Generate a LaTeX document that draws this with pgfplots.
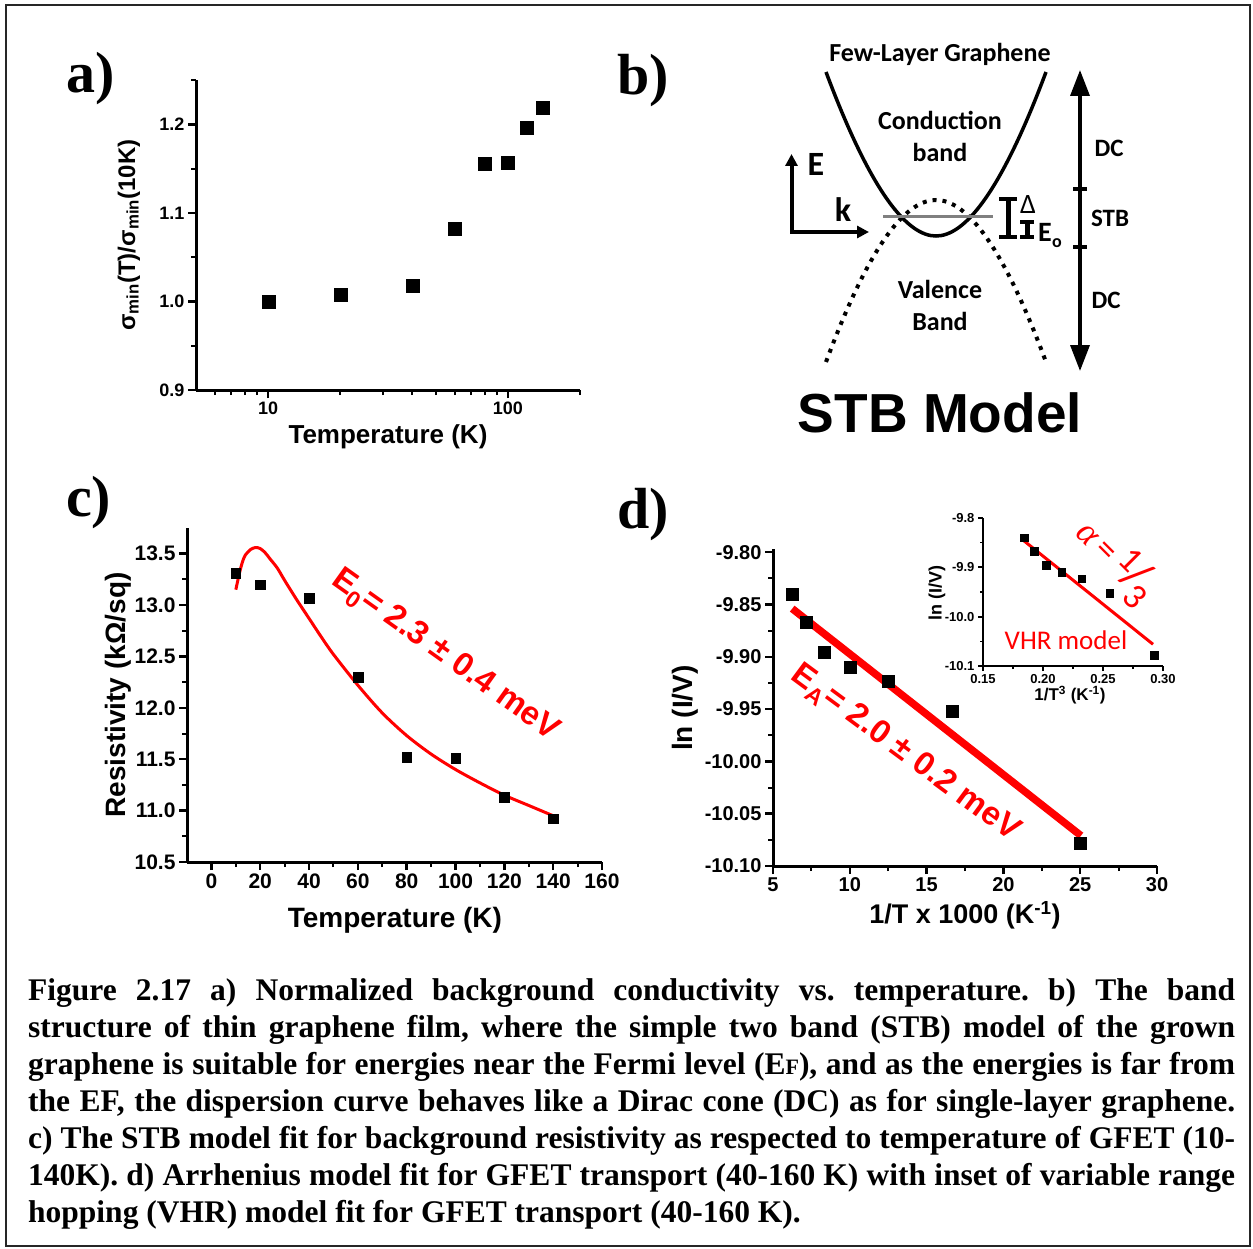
\documentclass[border=0pt]{standalone}
\usepackage{fontspec}
\setmainfont{Liberation Sans}
\newfontfamily\serifb{Liberation Serif}
\newfontfamily\calfont{Carlito}
\usepackage{pgfplots}
\usepackage{pgfplotstable}
\pgfplotsset{compat=1.18}
\usetikzlibrary{arrows.meta}
\newcommand\fs[1]{\fontsize{#1}{#1}\selectfont}
\frenchspacing

% ---------- data ----------
% a) normalised minimum conductivity
\pgfplotstableread{
T    s
10   1.000
20   1.008
40   1.018
60   1.082
80   1.155
100  1.157
120  1.196
140  1.219
}\tabA
% c) background resistivity (kOhm/sq)
\pgfplotstableread{
T    rho
10   13.31
20   13.20
40   13.07
60   12.30
80   11.52
100  11.51
120  11.13
140  10.92
}\tabC
% c) STB model fit
\pgfplotstableread{
T    rho
10   13.15
11   13.26
12   13.36
13   13.44
14   13.49
16   13.54
18   13.56
20   13.55
22   13.51
24   13.45
27   13.36
30   13.24
35   13.05
40   12.87
45   12.69
50   12.52
60   12.22
70   11.95
80   11.73
90   11.55
100  11.40
110  11.27
120  11.15
130  11.05
140  10.95
}\tabCfit
% d) Arrhenius plot, x = 1000/T
\pgfplotstableread{
x      y
6.25   -9.840
7.14   -9.867
8.33   -9.896
10.00  -9.910
12.50  -9.923
16.67  -9.952
25.00  -10.078
}\tabD
% d) inset, x = T^(-1/3)
\pgfplotstableread{
x       y
0.1842  -9.840
0.1926  -9.867
0.2027  -9.896
0.2154  -9.910
0.2321  -9.923
0.2554  -9.952
0.2924  -10.078
}\tabDin

\pgfplotsset{
  panel/.style={
    scale only axis, enlargelimits=false, clip=false,
    axis x line*=bottom, axis y line*=left,
    axis line style={line width=3pt, black},
    tick align=outside,
    major tick length=8pt, minor tick length=5pt,
    major tick style={line width=2.5pt, black},
    minor tick style={line width=2pt, black},
    /pgf/number format/assume math mode=true,
  },
  sq/.style={only marks, mark=square*, mark options={fill=black, draw=black, line width=0.3pt}},
}

\begin{document}
\begin{tikzpicture}

% ---------- frame, panel b drawing, labels and caption ----------
\begin{scope}[x=1pt,y=-1pt]
  \path (0,0) rectangle (1253,1249);
  \draw[line width=1.6pt, black!85] (6,5) rectangle (1250,1246);

  % panel letters
  \node[anchor=base west, inner sep=0, font=\serifb\bfseries\fs{58}] at (66,93) {a)};
  \node[anchor=base west, inner sep=0, font=\serifb\bfseries\fs{58}] at (617,95) {b)};
  \node[anchor=base west, inner sep=0, font=\serifb\bfseries\fs{58}] at (66,516) {c)};
  \node[anchor=base west, inner sep=0, font=\serifb\bfseries\fs{58}] at (617,528) {d)};

  % b) band structure sketch
  \draw[line width=3.5pt] (826,72) .. controls (872,195) and (908,236) .. (936,236)
        .. controls (964,236) and (1000,195) .. (1046,72);
  \draw[line width=4pt, dash pattern=on 4pt off 6pt] (826,362) .. controls (872,238) and (908,200) .. (936,200)
        .. controls (964,200) and (1000,238) .. (1046,362);
  \draw[black!50, line width=2.5pt] (883,216.5) -- (993,216.5);
  \draw[line width=4pt, line join=miter, {Triangle[length=12pt,width=12pt]}-{Triangle[length=12pt,width=12pt]}]
        (791.5,154) -- (791.5,232) -- (869,232);
  \node[font=\calfont\bfseries\fs{34}] at (816,164) {E};
  \node[font=\calfont\bfseries\fs{34}] at (843,210) {k};
  % gap markers
  \draw[line width=5pt] (1008,199) -- (1008,237);
  \draw[line width=4pt] (999,199) -- (1017,199) (999,237) -- (1017,237);
  \draw[line width=5pt] (1027,222) -- (1027,237);
  \draw[line width=4pt] (1020,222) -- (1034,222) (1020,237) -- (1034,237);
  \node[font=\calfont\fs{28}] at (1028,205) {Δ};
  \node[font=\calfont\bfseries\fs{28}] at (1045,232) {E};
  \node[font=\calfont\bfseries\fs{18}] at (1057,243) {o};
  % energy ranges
  \draw[line width=3.5pt, {Triangle[length=26pt,width=19pt]}-{Triangle[length=26pt,width=19pt]}] (1080,70) -- (1080,371);
  \draw[line width=3.5pt] (1073,189) -- (1087,189) (1073,247) -- (1087,247);
  \node[font=\calfont\bfseries\fs{25}] at (1109,148) {DC};
  \node[font=\calfont\bfseries\fs{25}] at (1110,218) {STB};
  \node[font=\calfont\bfseries\fs{25}] at (1106,300) {DC};
  \node[font=\calfont\bfseries\fs{26}] at (940,54) {Few-Layer Graphene};
  \node[font=\calfont\bfseries\fs{26}] at (940,120) {Conduction};
  \node[font=\calfont\bfseries\fs{26}] at (940,152) {band};
  \node[font=\calfont\bfseries\fs{26}] at (940,289) {Valence};
  \node[font=\calfont\bfseries\fs{26}] at (940,321) {Band};
  \node[anchor=base, inner sep=0, font=\bfseries\fs{55}] at (940,432) {STB Model};

  % caption
  \begin{scope}[every node/.style={anchor=base west, inner sep=0, font=\serifb\bfseries\fs{31.5}}]
    \node at (28,1000) {\makebox[1207pt][s]{Figure 2.17 a) Normalized background conductivity vs. temperature. b) The band}};
    \node at (28,1037) {\makebox[1207pt][s]{structure of thin graphene film, where the simple two band (STB) model of the grown}};
    \node at (28,1074) {\makebox[1207pt][s]{graphene is suitable for energies near the Fermi level (E{\fs{22}F}), and as the energies is far from}};
    \node at (28,1111) {\makebox[1207pt][s]{the EF, the dispersion curve behaves like a Dirac cone (DC) as for single-layer graphene.}};
    \node at (28,1148) {\makebox[1207pt][s]{c) The STB model fit for background resistivity as respected to temperature of GFET (10-}};
    \node at (28,1185) {\makebox[1207pt][s]{140K). d) Arrhenius model fit for GFET transport (40-160 K) with inset of variable range}};
    \node at (28,1222) {hopping (VHR) model fit for GFET transport (40-160 K).};
  \end{scope}
\end{scope}

% ---------- a) ----------
\begin{axis}[panel,
  at={(196pt,-390pt)}, anchor=south west, width=384pt, height=310pt,
  xmode=log, xmin=5, xmax=200, ymin=0.9, ymax=1.25,
  xtick={10,100}, xticklabels={10,100},
  minor xtick={6,7,8,9,20,30,40,50,60,70,80,90,200},
  ytick={0.9,1.0,1.1,1.2}, minor ytick={0.95,1.05,1.15,1.25},
  yticklabel style={/pgf/number format/.cd, fixed, fixed zerofill, precision=1},
  ticklabel style={font=\bfseries\fs{18}},
  xlabel={Temperature (K)},
  ylabel={σ\textsubscript{min}(T)/σ\textsubscript{min}(10K)},
  xlabel style={at={(axis description cs:0.5,-0.152)}, anchor=center, font=\bfseries\fs{26}},
  ylabel style={at={(axis description cs:-0.175,0.5)}, anchor=center, rotate=0, font=\bfseries\fs{24}},
]
  \addplot[sq, mark size=6.5pt] table[x=T, y=s] {\tabA};
\end{axis}

% ---------- c) ----------
\begin{axis}[panel,
  at={(187pt,-862pt)}, anchor=south west, width=415pt, height=334pt,
  xmin=-10, xmax=160, ymin=10.5, ymax=13.75,
  xtick={0,20,...,160}, minor x tick num=1,
  ytick={10.5,11.0,11.5,12.0,12.5,13.0,13.5}, minor y tick num=1,
  yticklabel style={/pgf/number format/.cd, fixed, fixed zerofill, precision=1},
  ticklabel style={font=\bfseries\fs{21}},
  xlabel={Temperature (K)},
  ylabel={Resistivity (kΩ/sq)},
  xlabel style={at={(axis description cs:0.501,-0.174)}, anchor=center, font=\bfseries\fs{28}},
  ylabel style={at={(axis description cs:-0.166,0.5)}, anchor=center, font=\bfseries\fs{28}},
]
  \addplot[sq, mark size=4.8pt] table[x=T, y=rho] {\tabC};
  \addplot[red, line width=3pt, smooth, tension=0.5, no marks] table[x=T, y=rho] {\tabCfit};
\end{axis}

% ---------- d) ----------
\begin{axis}[panel,
  at={(773pt,-866pt)}, anchor=south west, width=384pt, height=317pt,
  xmin=5, xmax=30, ymin=-10.10, ymax=-9.797,
  xtick={5,10,15,20,25,30}, minor x tick num=1,
  ytick={-10.10,-10.05,-10.00,-9.95,-9.90,-9.85,-9.80}, minor y tick num=1,
  yticklabel style={/pgf/number format/.cd, fixed, fixed zerofill, precision=2},
  ticklabel style={font=\bfseries\fs{20}},
  xlabel={1/T x 1000 (K\textsuperscript{-1})},
  ylabel={ln (I/V)},
  xlabel style={at={(axis description cs:0.5,-0.155)}, anchor=center, font=\bfseries\fs{27}},
  ylabel style={at={(axis description cs:-0.229,0.498)}, anchor=center, font=\bfseries\fs{28}},
]
  \addplot[sq, mark size=6pt] table[x=x, y=y] {\tabD};
  \addplot[red, line width=7.5pt, no marks] coordinates {(6.25,-9.854) (25.05,-10.071)};
\end{axis}

% ---------- d) inset ----------
\begin{axis}[panel,
  at={(983pt,-666pt)}, anchor=south west, width=180pt, height=148pt,
  xmin=0.15, xmax=0.30, ymin=-10.1, ymax=-9.8,
  axis line style={line width=2.5pt, black},
  major tick length=5pt, minor tick length=3pt,
  major tick style={line width=2pt, black},
  minor tick style={line width=1.5pt, black},
  xtick={0.15,0.20,0.25,0.30}, minor x tick num=1,
  ytick={-10.1,-10.0,-9.9,-9.8}, minor y tick num=1,
  xticklabel style={/pgf/number format/.cd, fixed, fixed zerofill, precision=2},
  yticklabel style={/pgf/number format/.cd, fixed, fixed zerofill, precision=1},
  ticklabel style={font=\bfseries\fs{13}},
  xlabel={1/T\textsuperscript{3} (K\textsuperscript{-1})},
  ylabel={ln (I/V)},
  xlabel style={at={(axis description cs:0.483,-0.196)}, anchor=center, font=\bfseries\fs{17}},
  ylabel style={at={(axis description cs:-0.256,0.49)}, anchor=center, font=\bfseries\fs{18}},
]
  \addplot[sq, mark size=3.8pt] table[x=x, y=y] {\tabDin};
  \addplot[red, line width=3pt, no marks] coordinates {(0.184,-9.846) (0.2917,-10.056)};
\end{axis}

% ---------- red annotations ----------
\begin{scope}[x=1pt,y=-1pt]
  \node[rotate=-35.5, text=red, font=\bfseries\fs{33}] at (445,656) {E\textsubscript{0}= 2.3 ± 0.4 meV};
  \node[rotate=-36.5, text=red, font=\bfseries\fs{33}] at (905,754) {E\textsubscript{A}= 2.0 ± 0.2 meV};
  \node[text=red, font=\calfont\fs{27}] at (1066,640) {VHR model};
  \node[rotate=-45, text=red, font=\calfont\fs{36}] at (1116,561)
    {{\serifb\itshape α}\,=\,\raisebox{.3em}{1}\kern-.1em{\fs{48}/}\kern-.1em\raisebox{-.36em}{3}};
\end{scope}

\end{tikzpicture}
\end{document}
